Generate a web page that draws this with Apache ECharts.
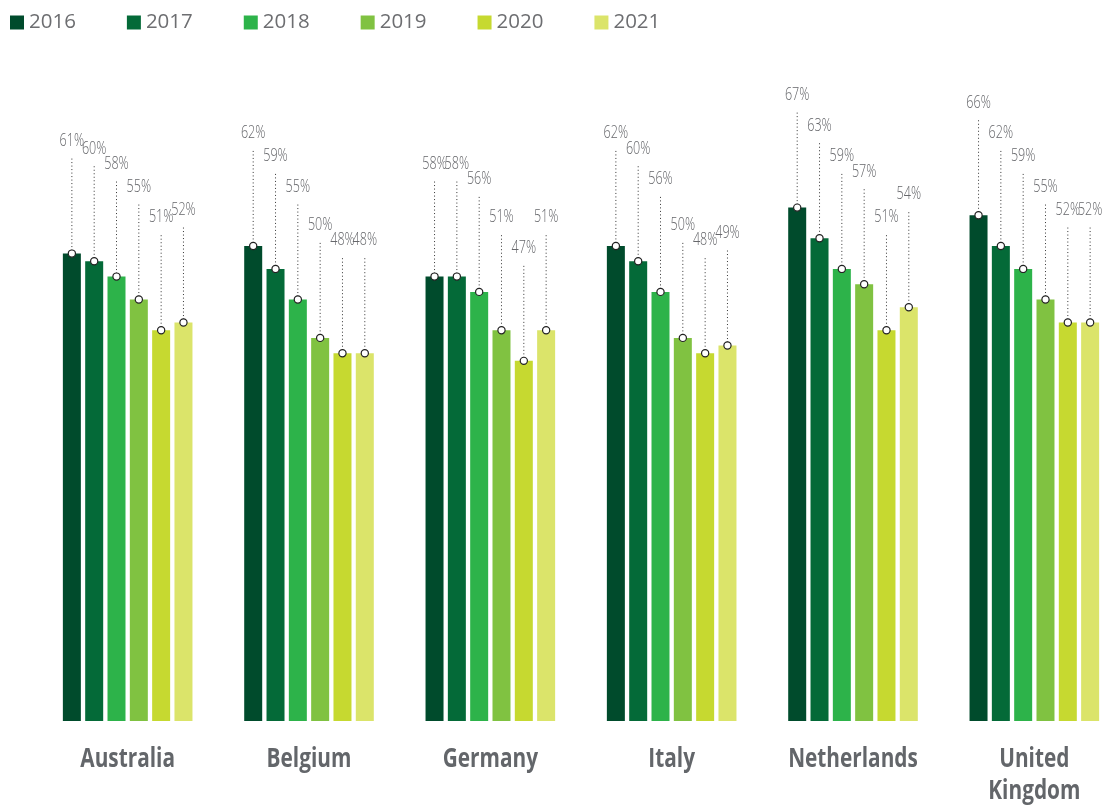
<!DOCTYPE html>
<html>
<head>
<meta charset="utf-8">
<script src="https://cdn.jsdelivr.net/npm/echarts@6/dist/echarts.min.js"></script>
<style>html,body{margin:0;padding:0;background:#fff}#c{width:1112px;height:805px}</style>
</head>
<body>
<div id="c"></div>
<script>
const categories = ['Australia', 'Belgium', 'Germany', 'Italy', 'Netherlands', 'United Kingdom'];
const years = ['2016', '2017', '2018', '2019', '2020', '2021'];
const v2016 = [61, 62, 58, 62, 67, 66];
const v2017 = [60, 59, 58, 60, 63, 62];
const v2018 = [58, 55, 56, 56, 59, 59];
const v2019 = [55, 50, 51, 50, 57, 55];
const v2020 = [51, 48, 47, 48, 51, 52];
const v2021 = [52, 48, 51, 49, 54, 52];
const colors = ['#004b2c', '#046a38', '#2db34a', '#80c241', '#c6d930', '#dbe46a'];

const valuesByYear = [v2016, v2017, v2018, v2019, v2020, v2021];
const BAR_W = 18, BAR_GAP = 0.24;
const PITCH = BAR_W * (1 + BAR_GAP);
const LABEL_RISE = 113;

const series = [];
valuesByYear.forEach((vals, j) => {
  series.push({
    name: years[j], type: 'bar', barWidth: BAR_W, barGap: (BAR_GAP * 100) + '%',
    itemStyle: { color: colors[j] },
    data: vals,
    z: 2
  });
});
valuesByYear.forEach((vals, j) => {
  series.push({
    name: years[j] + ' label', type: 'custom', z: 5,
    data: vals.map((v, i) => [i, v]),
    renderItem: function (params, api) {
      const p = api.coord([api.value(0), api.value(1)]);
      const x = p[0] + (j - (years.length - 1) / 2) * PITCH;
      const y = p[1];
      const ly = y - LABEL_RISE;
      return {
        type: 'group',
        children: [
          { type: 'line', shape: { x1: x, y1: y - 3, x2: x, y2: ly + 16 },
            style: { stroke: '#333', lineWidth: 1, lineDash: [1, 2.5] } },
          { type: 'circle', shape: { cx: x, cy: y, r: 3.6 },
            style: { fill: '#fff', stroke: '#222', lineWidth: 1.2 } },
          { type: 'text', x: x, y: ly, scaleX: 0.68,
            style: { x: 0, y: 0, text: api.value(1) + '%', align: 'center', verticalAlign: 'middle',
              fontSize: 18.5, fontFamily: 'Open Sans', fontWeight: 300, fill: '#66676b' } }
        ]
      };
    }
  });
});
series.push({
  name: 'category names', type: 'custom', z: 5,
  data: categories.map((c, i) => [i, 0]),
  renderItem: function (params, api) {
    const p = api.coord([api.value(0), 0]);
    return {
      type: 'text', x: p[0], y: p[1] + 23, scaleX: 0.8,
      style: { x: 0, y: 0, text: categories[params.dataIndex].replace(' ', '\n'),
        align: 'center', verticalAlign: 'top', lineHeight: 32,
        fontSize: 26, fontWeight: 'bold', fontFamily: 'Open Sans', fill: '#63666a' }
    };
  }
});

const chart = echarts.init(document.getElementById('c'));
chart.setOption({
  animation: false,
  legend: {
    data: years, left: 10, top: 12, padding: 0, icon: 'rect', itemWidth: 14, itemHeight: 14, itemGap: 51,
    textStyle: { fontSize: 20.5, fontFamily: 'Open Sans', color: '#6d6e71' }
  },
  grid: { left: 37, width: 1088, top: 108, height: 613, outerBoundsMode: 'none', containLabel: false },
  xAxis: {
    type: 'category', data: categories,
    axisLine: { show: false }, axisTick: { show: false }, axisLabel: { show: false }
  },
  yAxis: { type: 'value', min: 0, max: 80, show: false, splitLine: { show: false } },
  series: series
});
</script>
</body>
</html>
